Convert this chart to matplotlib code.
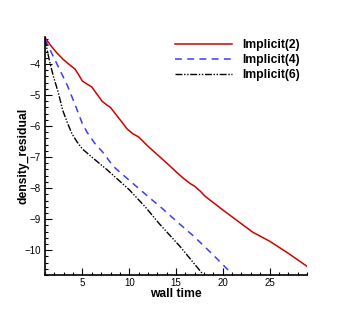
import matplotlib.pyplot as plt
from matplotlib.ticker import MultipleLocator

plt.rcParams['font.family'] = ['Liberation Sans', 'DejaVu Sans']

# Implicit(2)
t2 = [1.0, 1.6, 2.2, 2.9, 3.6, 4.2, 4.6, 5.0, 5.5, 6.0, 6.5, 7.1, 7.6, 8.0, 8.9, 9.8,
      10.4, 11.0, 12.0, 13.3, 14.4, 15.1, 15.9, 16.5, 17.0, 17.6, 18.1, 19.0, 19.9,
      21.5, 23.2, 25.0, 27.0, 29.0]
r2 = [-3.15, -3.4, -3.62, -3.84, -4.02, -4.16, -4.35, -4.55, -4.65, -4.74, -4.95, -5.2,
      -5.32, -5.4, -5.75, -6.1, -6.25, -6.35, -6.65, -7.0, -7.3, -7.5, -7.71, -7.85, -7.94,
      -8.1, -8.26, -8.47, -8.68, -9.04, -9.42, -9.71, -10.1, -10.52]

# Implicit(4)
t4 = [1.0, 1.4, 1.85, 2.6, 3.4, 4.2, 5.0, 5.5, 6.3, 7.2, 8.3, 10.2, 12.6, 13.25,
      15.4, 16.9, 18.9, 21.0]
r4 = [-3.2, -3.45, -3.74, -4.2, -4.7, -5.3, -5.93, -6.2, -6.55, -6.85, -7.3, -7.8,
      -8.42, -8.58, -9.16, -9.55, -10.13, -10.77]

# Implicit(6)
t6 = [1.0, 1.2, 1.5, 1.9, 2.4, 2.9, 3.4, 3.9, 4.4, 5.0, 6.2, 7.6, 10.0, 11.7, 13.25,
      15.4, 17.86]
r6 = [-3.2, -3.5, -3.93, -4.4, -4.9, -5.5, -5.9, -6.26, -6.5, -6.74, -7.05, -7.4,
      -8.05, -8.6, -9.16, -9.87, -10.77]

xticks = [5, 10, 15, 20, 25]
yticks = [-4, -5, -6, -7, -8, -9, -10]

fig = plt.figure(figsize=(3.49, 3.10), dpi=100)
ax = fig.add_axes([45 / 349, 35 / 310, 262 / 349, 238 / 310])

ax.plot(t2, r2, color='#d40000', lw=1.1, label='Implicit(2)')
ax.plot(t4, r4, color='#3c3cff', lw=1.1, ls=(0, (4.5, 3.5)), label='Implicit(4)')
ax.plot(t6, r6, color='black', lw=1.0, ls=(0, (5, 1.2, 1, 1.2, 1, 1.2)), label='Implicit(6)')

ax.set_xlim(1, 29)
ax.set_ylim(-10.8, -3.13)
ax.set_xticks(xticks)
ax.set_yticks(yticks)
ax.xaxis.set_minor_locator(MultipleLocator(1))
ax.yaxis.set_minor_locator(MultipleLocator(0.2))
ax.spines['top'].set_visible(False)
ax.spines['right'].set_visible(False)
ax.spines['left'].set_linewidth(1.2)
ax.spines['bottom'].set_linewidth(1.2)
ax.tick_params(which='both', direction='in', labelsize=7, width=0.8)
ax.tick_params(which='major', length=5)
ax.tick_params(which='minor', length=2.5)
ax.tick_params(axis='x', pad=2.5)
ax.tick_params(axis='y', pad=3)

ax.set_xlabel('wall time', fontsize=8.7, fontweight='bold', labelpad=0)
ax.set_ylabel('density_residual', fontsize=8.7, fontweight='bold', labelpad=-3.5)

leg = ax.legend(loc='upper right', bbox_to_anchor=(1.0, 1.022), frameon=False,
                fontsize=8.7, handlelength=4.7, handletextpad=0.83, labelspacing=0.25,
                borderaxespad=0.2)
for txt in leg.get_texts():
    txt.set_fontweight('bold')

fig.savefig('out.png', dpi=100)
